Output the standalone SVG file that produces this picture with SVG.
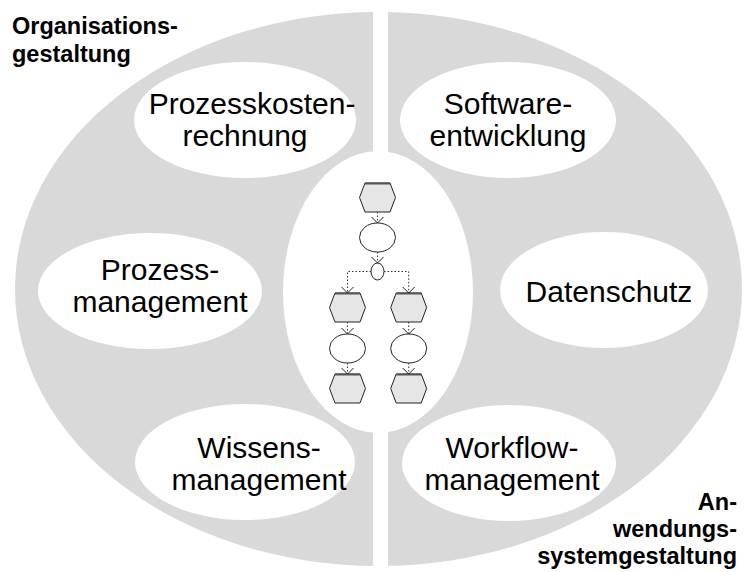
<svg xmlns="http://www.w3.org/2000/svg" width="744" height="572" viewBox="0 0 744 572">
<defs>
<style>
.band{fill:#d9d9d9}
.hole{fill:#ffffff}
.lbl{font-family:"Liberation Sans",Arial,sans-serif;font-size:30px;fill:#000;text-anchor:middle}
.bold{font-family:"Liberation Sans",Arial,sans-serif;font-size:23.5px;font-weight:bold;fill:#000}
.hex{fill:#e6e6e6;stroke:#222;stroke-width:1}
.hextop{stroke:#555;stroke-width:2;fill:none}
.fn{fill:#fff;stroke:#222;stroke-width:1}
.flow{fill:none;stroke:#333;stroke-width:1;stroke-dasharray:1.5 2}
</style>
<marker id="arr" markerUnits="userSpaceOnUse" markerWidth="9" markerHeight="14" viewBox="-1 -1 9 14" refX="6" refY="6" orient="auto">
<path d="M0,0 L6,6 L0,12" fill="none" stroke="#222" stroke-width="1"/>
</marker>
</defs>
<rect width="744" height="572" fill="#fff"/>
<g id="background">
<ellipse class="band" cx="378.5" cy="289" rx="363.5" ry="277"/>
<rect class="hole" x="373" y="0" width="15" height="572"/>
<ellipse class="hole" cx="378" cy="292" rx="95" ry="141"/>
</g>
<g id="prozesskostenrechnung">
<ellipse class="hole" cx="245" cy="120" rx="111" ry="58"/>
<text class="lbl" x="252" y="114">Prozesskosten-</text>
<text class="lbl" x="245" y="146">rechnung</text>
</g>
<g id="softwareentwicklung">
<ellipse class="hole" cx="508" cy="120" rx="108" ry="58"/>
<text class="lbl" x="508" y="114">Software-</text>
<text class="lbl" x="508" y="146">entwicklung</text>
</g>
<g id="prozessmanagement">
<ellipse class="hole" cx="150" cy="291" rx="112" ry="58"/>
<text class="lbl" x="160" y="280">Prozess-</text>
<text class="lbl" x="160" y="312">management</text>
</g>
<g id="datenschutz">
<ellipse class="hole" cx="604" cy="290" rx="104" ry="58"/>
<text class="lbl" x="609" y="302">Datenschutz</text>
</g>
<g id="wissensmanagement">
<ellipse class="hole" cx="245" cy="462" rx="110" ry="58"/>
<text class="lbl" x="259" y="458">Wissens-</text>
<text class="lbl" x="259" y="490">management</text>
</g>
<g id="workflowmanagement">
<ellipse class="hole" cx="509" cy="463" rx="107" ry="58"/>
<text class="lbl" x="512" y="458">Workflow-</text>
<text class="lbl" x="512" y="490">management</text>
</g>
<g id="organisationsgestaltung">
<text class="bold" x="12" y="34">Organisations-</text>
<text class="bold" x="12" y="62">gestaltung</text>
</g>
<g id="anwendungssystemgestaltung">
<text class="bold" x="737" y="510" text-anchor="end">An-</text>
<text class="bold" x="737" y="537" text-anchor="end">wendungs-</text>
<text class="bold" x="737" y="564" text-anchor="end">systemgestaltung</text>
</g>
<g id="epc-event-1">
<path class="hex" d="M365,183 L390,183 L395.5,197.5 L390,212 L365,212 L359.5,197.5 Z"/>
<path class="hextop" d="M365,183.5 L390,183.5"/>
</g>
<g id="epc-function-1"><ellipse class="fn" cx="377.5" cy="237.5" rx="18" ry="14.5"/></g>
<g id="epc-xor"><ellipse class="fn" cx="377.5" cy="271.5" rx="6.5" ry="8.5"/></g>
<g id="epc-event-2">
<path class="hex" d="M335,293 L360,293 L365.5,307.5 L360,322 L335,322 L329.5,307.5 Z"/>
<path class="hextop" d="M335,293.5 L360,293.5"/>
</g>
<g id="epc-event-3">
<path class="hex" d="M396.2,293 L421.2,293 L426.7,307.5 L421.2,322 L396.2,322 L390.7,307.5 Z"/>
<path class="hextop" d="M396.2,293.5 L421.2,293.5"/>
</g>
<g id="epc-function-2"><ellipse class="fn" cx="347.5" cy="348.5" rx="18" ry="14.5"/></g>
<g id="epc-function-3"><ellipse class="fn" cx="408.7" cy="348.5" rx="18" ry="14.5"/></g>
<g id="epc-event-4">
<path class="hex" d="M335,374 L360,374 L365.5,388.5 L360,403 L335,403 L329.5,388.5 Z"/>
<path class="hextop" d="M335,374.5 L360,374.5"/>
</g>
<g id="epc-event-5">
<path class="hex" d="M396.2,374 L421.2,374 L426.7,388.5 L421.2,403 L396.2,403 L390.7,388.5 Z"/>
<path class="hextop" d="M396.2,374.5 L421.2,374.5"/>
</g>
<g id="connectors">
<path class="flow" d="M377.5,212 L377.5,223" marker-end="url(#arr)"/>
<path class="flow" d="M377.5,252 L377.5,263" marker-end="url(#arr)"/>
<path class="flow" d="M371,271.5 L347.5,271.5 L347.5,293" marker-end="url(#arr)"/>
<path class="flow" d="M384,271.5 L408.7,271.5 L408.7,293" marker-end="url(#arr)"/>
<path class="flow" d="M347.5,322 L347.5,334" marker-end="url(#arr)"/>
<path class="flow" d="M408.7,322 L408.7,334" marker-end="url(#arr)"/>
<path class="flow" d="M347.5,363 L347.5,374" marker-end="url(#arr)"/>
<path class="flow" d="M408.7,363 L408.7,374" marker-end="url(#arr)"/>
</g>
</svg>
